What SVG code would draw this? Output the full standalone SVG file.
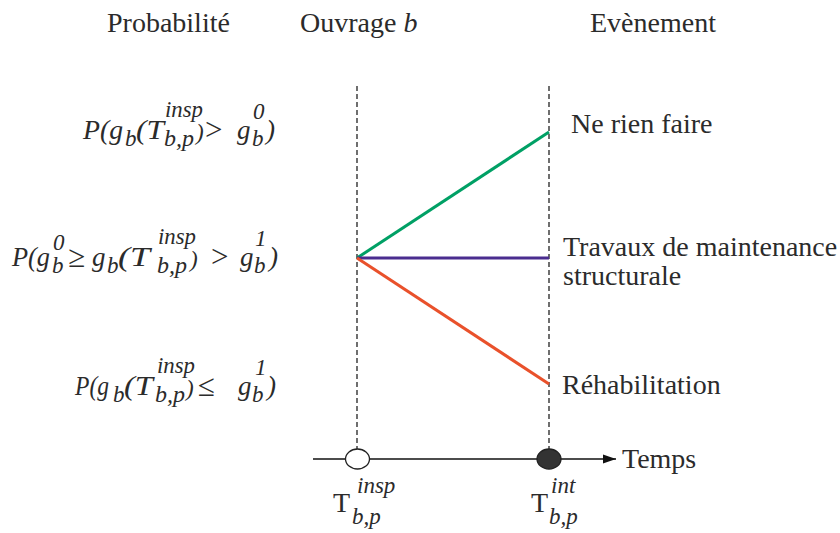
<svg xmlns="http://www.w3.org/2000/svg" width="840" height="533" viewBox="0 0 840 533" font-family="Liberation Serif, Times New Roman, Tinos, Noto Serif, DejaVu Serif, serif">
<defs>
<style>
text{fill:#2b2b2b}
.t{font-size:28px}
.f{font-size:27px;font-style:italic}
.s{font-size:23px}
.r{font-size:31px;font-style:normal}
.i{font-style:italic}
.dash{stroke:#222;stroke-width:1.3;stroke-dasharray:5 3;fill:none}
.ln{stroke-width:3;fill:none}
</style>
<marker id="arr" markerWidth="14" markerHeight="10" refX="13" refY="5" orient="auto" markerUnits="userSpaceOnUse">
<path d="M0,0.5 L13,5 L0,9.5 Z" fill="#111"/>
</marker>
</defs>
<rect width="840" height="533" fill="#fff"/>

<g id="headers">
<text class="t" x="107" y="32">Probabilité</text>
<text class="t" x="300" y="32">Ouvrage <tspan class="i">b</tspan></text>
<text class="t" x="590" y="32">Evènement</text>
</g>

<g id="connectors">
<line class="dash" x1="357" y1="86" x2="357" y2="449"/>
<line class="dash" x1="549" y1="86" x2="549" y2="449"/>
<line class="ln" x1="357" y1="258" x2="549" y2="132" stroke="#00a065"/>
<line class="ln" x1="357" y1="258" x2="549" y2="258" stroke="#4a2d8f"/>
<line class="ln" x1="357" y1="258" x2="549" y2="384" stroke="#e9512b"/>
<line x1="313" y1="459" x2="616" y2="459" stroke="#111" stroke-width="1.5" marker-end="url(#arr)"/>
</g>

<g id="prob-1">
<text class="f" x="83" y="139" textLength="40" lengthAdjust="spacingAndGlyphs">P(g</text>
<text class="f s" x="125" y="146">b</text>
<text class="f" x="136" y="139" textLength="28" lengthAdjust="spacingAndGlyphs">(T</text>
<text class="f s" x="165" y="117" textLength="38" lengthAdjust="spacingAndGlyphs">insp</text>
<text class="f s" x="164" y="146" textLength="30" lengthAdjust="spacingAndGlyphs">b,p</text>
<text class="f s" x="196" y="140">)</text>
<text class="r" x="205" y="140">&gt;</text>
<text class="f" x="237" y="139">g</text>
<text class="f s" x="253" y="119">0</text>
<text class="f s" x="252" y="146">b</text>
<text class="f" x="266" y="139">)</text>
</g>

<g id="prob-2">
<text class="f" x="12" y="266" textLength="38" lengthAdjust="spacingAndGlyphs">P(g</text>
<text class="f s" x="53" y="250">0</text>
<text class="f s" x="52" y="273">b</text>
<text class="r" x="68" y="267">≥</text>
<text class="f" x="92" y="266">g</text>
<text class="f s" x="107" y="273">b</text>
<text class="f" x="118" y="266" textLength="32" lengthAdjust="spacingAndGlyphs">(T</text>
<text class="f s" x="158" y="244" textLength="38" lengthAdjust="spacingAndGlyphs">insp</text>
<text class="f s" x="157" y="273" textLength="30" lengthAdjust="spacingAndGlyphs">b,p</text>
<text class="f s" x="190" y="267">)</text>
<text class="r" x="211" y="267">&gt;</text>
<text class="f" x="240" y="266">g</text>
<text class="f s" x="255" y="246">1</text>
<text class="f s" x="254" y="273">b</text>
<text class="f" x="269" y="266">)</text>
</g>

<g id="prob-3">
<text class="f" x="75" y="395" textLength="34" lengthAdjust="spacingAndGlyphs">P(g</text>
<text class="f s" x="113" y="402">b</text>
<text class="f" x="124" y="395" textLength="29" lengthAdjust="spacingAndGlyphs">(T</text>
<text class="f s" x="157" y="373" textLength="38" lengthAdjust="spacingAndGlyphs">insp</text>
<text class="f s" x="155" y="402" textLength="30" lengthAdjust="spacingAndGlyphs">b,p</text>
<text class="f s" x="186" y="396">)</text>
<text class="r" x="198" y="396">≤</text>
<text class="f" x="238" y="395">g</text>
<text class="f s" x="255" y="375">1</text>
<text class="f s" x="252" y="402">b</text>
<text class="f" x="267" y="395">)</text>
</g>

<g id="event-nothing">
<text class="t" x="571" y="133">Ne rien faire</text>
</g>
<g id="event-maintenance">
<text class="t" x="563" y="256">Travaux de maintenance</text>
<text class="t" x="563" y="285">structurale</text>
</g>
<g id="event-rehab">
<text class="t" x="562" y="394">Réhabilitation</text>
</g>

<g id="t-insp">
<ellipse cx="357.5" cy="459" rx="12" ry="10" fill="#fff" stroke="#222" stroke-width="1.3"/>
<text class="t" x="333" y="512">T</text>
<text class="t s i" x="357" y="493">insp</text>
<text class="t s i" x="352" y="524">b,p</text>
</g>
<g id="t-int">
<ellipse cx="549" cy="459" rx="12" ry="10" fill="#333" stroke="#222" stroke-width="1.3"/>
<text class="t" x="531" y="512">T</text>
<text class="t s i" x="551" y="493">int</text>
<text class="t s i" x="549" y="524">b,p</text>
</g>

<text class="t" x="622" y="468">Temps</text>
</svg>
